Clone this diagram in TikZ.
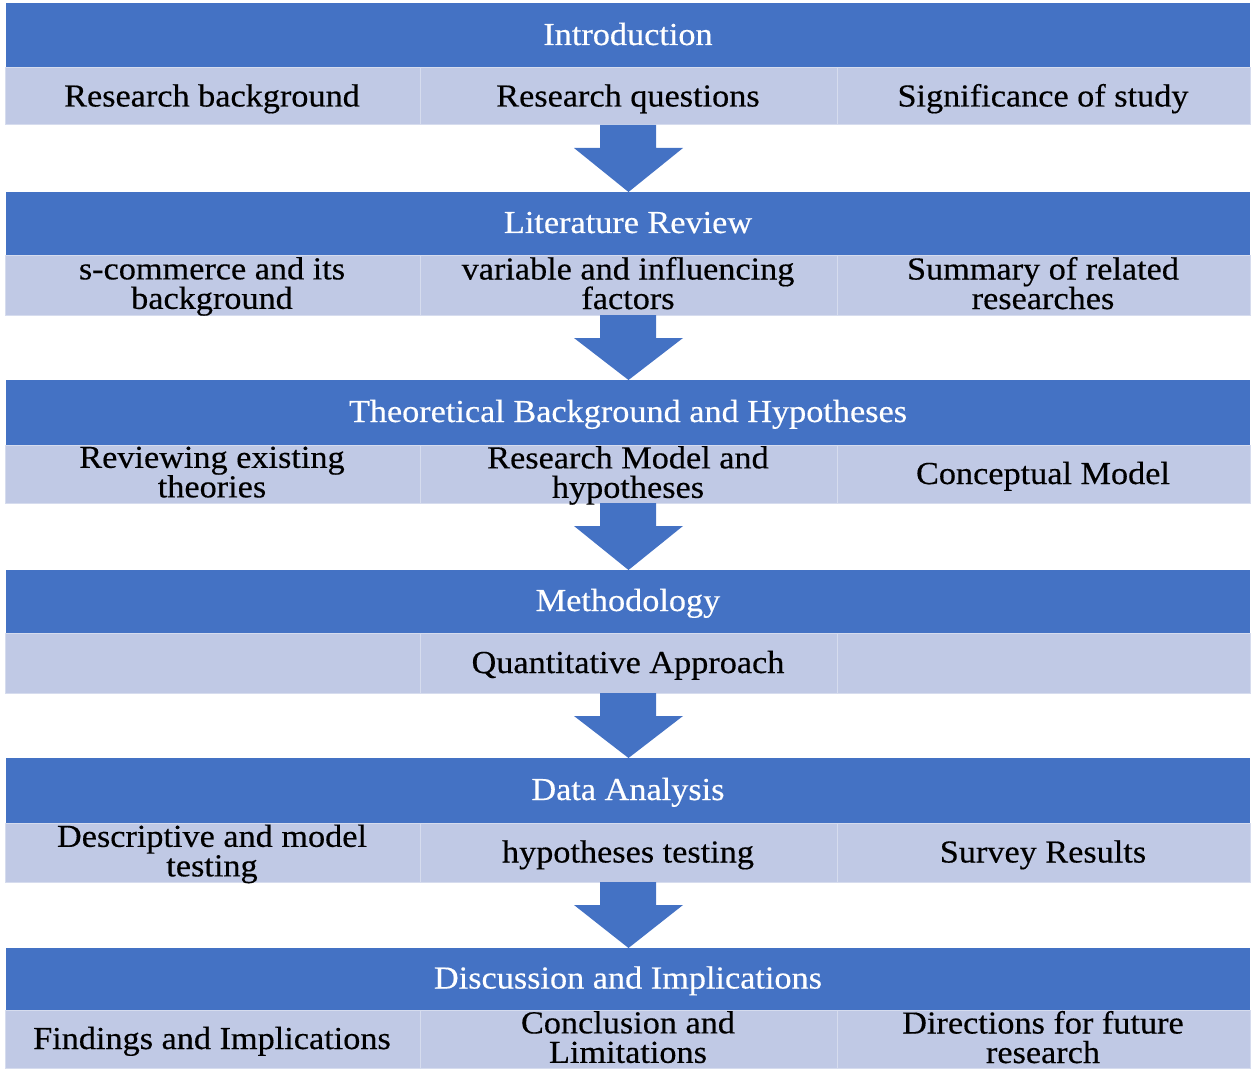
\documentclass[tikz,border=0pt]{standalone}
\usepackage{fontspec}
\setmainfont{Liberation Serif}[FakeStretch=1.07,FakeBold=0.4]
\definecolor{hdrblue}{RGB}{68,114,196}
\definecolor{rowblue}{RGB}{192,201,229}
\definecolor{cellline}{RGB}{214,220,238}
\newcommand{\topstrut}{\rule{0pt}{24pt}}
\newcommand{\botstrut}{\rule[-9pt]{0pt}{9pt}}
\begin{document}
\begin{tikzpicture}[x=1pt,y=-1pt,
  txt/.style={font=\fontsize{32}{29.5}\selectfont, align=center, inner sep=0pt,
    execute at begin node=\topstrut, execute at end node=\botstrut},
  cell/.style={fill=rowblue, draw=cellline, line width=1pt, inner sep=0pt}]
\useasboundingbox (0,0) rectangle (1251,1070);

% stage rows: top of header, bottom of header, bottom of row
\foreach \n/\t/\m/\b in {1/3/68/125, 2/192/255/315, 3/380/445/503,
                         4/570/633/693, 5/758/823/882, 6/948/1010/1068} {
  \fill[hdrblue] (6,\t) rectangle (1250,\m);
  \draw[cell] (5,\m) rectangle (420,\b);
  \draw[cell] (420,\m) rectangle (837,\b);
  \draw[cell] (837,\m) rectangle (1250,\b);
  \coordinate (h\n) at (628,{(\t+\m)/2+2});
  \coordinate (a\n) at (212,{(\m+\b)/2+2.5});
  \coordinate (b\n) at (628,{(\m+\b)/2+2.5});
  \coordinate (c\n) at (1043,{(\m+\b)/2+2.5});
}

% block arrows between stages
\foreach \s/\e in {125/192, 315/380, 503/570, 693/758, 882/948} {
  \fill[hdrblue] (600,\s) -- (656,\s) -- (656,\s+23) -- (683,\s+23)
    -- (628.5,\e) -- (574,\s+23) -- (600,\s+23) -- cycle;
}

% headings
\node[txt, text=white] (t1) at (h1) {Introduction};
\node[txt, text=white] (t2) at (h2) {Literature Review};
\node[txt, text=white] (t3) at (h3) {Theoretical Background and Hypotheses};
\node[txt, text=white] (t4) at (h4) {Methodology};
\node[txt, text=white] (t5) at (h5) {Data Analysis};
\node[txt, text=white] (t6) at (h6) {Discussion and Implications};

% topics
\node[txt] (r1a) at (a1) {Research background};
\node[txt] (r1b) at (b1) {Research questions};
\node[txt] (r1c) at (c1) {Significance of study};

\node[txt] (r2a) at (a2) {s-commerce and its\\background};
\node[txt] (r2b) at (b2) {variable and influencing\\factors};
\node[txt] (r2c) at (c2) {Summary of related\\researches};

\node[txt] (r3a) at (a3) {Reviewing existing\\theories};
\node[txt] (r3b) at (b3) {Research Model and\\hypotheses};
\node[txt] (r3c) at (c3) {Conceptual Model};

\node[txt] (r4b) at (b4) {Quantitative Approach};

\node[txt] (r5a) at (a5) {Descriptive and model\\testing};
\node[txt] (r5b) at (b5) {hypotheses testing};
\node[txt] (r5c) at (c5) {Survey Results};

\node[txt] (r6a) at (a6) {Findings and Implications};
\node[txt] (r6b) at (b6) {Conclusion and\\Limitations};
\node[txt] (r6c) at (c6) {Directions for future\\research};
\end{tikzpicture}
\end{document}
